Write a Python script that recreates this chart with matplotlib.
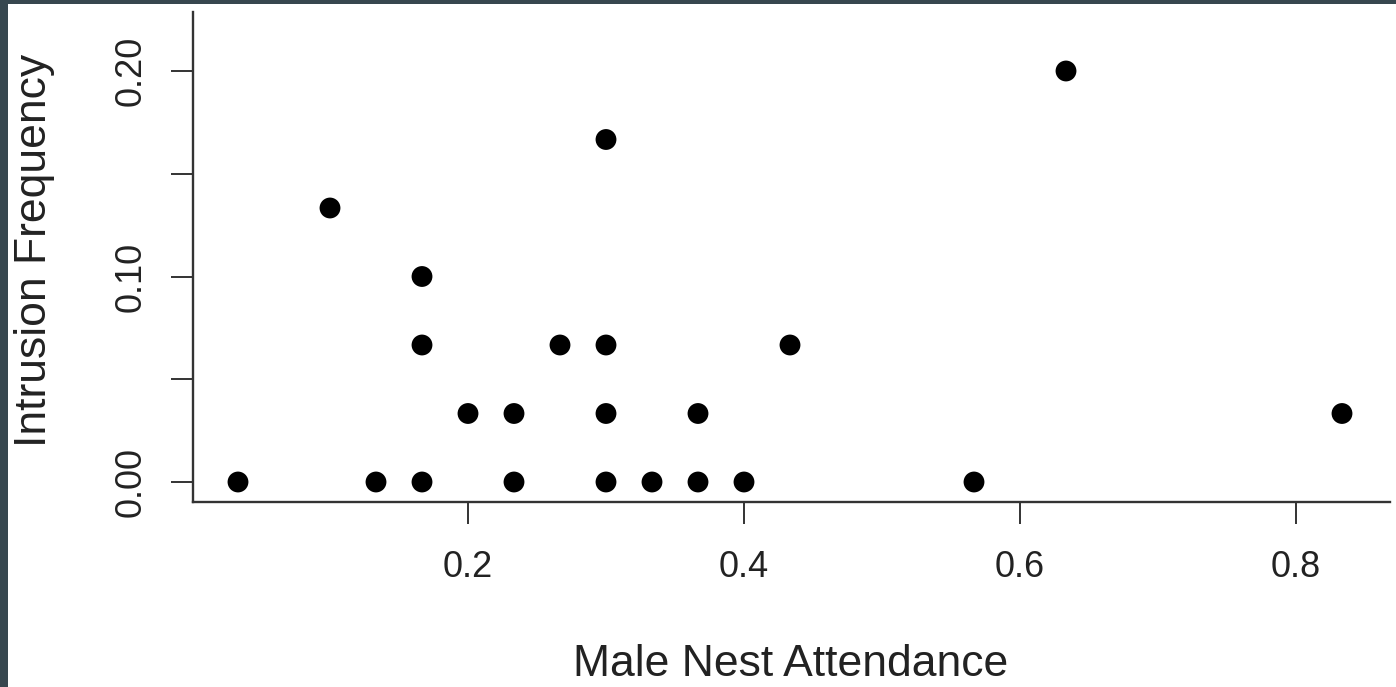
import matplotlib
matplotlib.use("Agg")
import matplotlib.pyplot as plt
from matplotlib.patches import Rectangle

# Data (multiples of 1/30)
male_nest_attendance = [1/30, 3/30, 4/30, 5/30, 5/30, 5/30, 6/30, 7/30, 7/30, 8/30,
                        9/30, 9/30, 9/30, 9/30, 10/30, 11/30, 11/30, 12/30, 13/30,
                        17/30, 19/30, 25/30]
intrusion_frequency = [0, 4/30, 0, 3/30, 2/30, 0, 1/30, 1/30, 0, 2/30,
                       5/30, 2/30, 1/30, 0, 0, 1/30, 0, 0, 2/30,
                       0, 6/30, 1/30]
x_ticks = [0.2, 0.4, 0.6, 0.8]
x_tick_labels = ["0.2", "0.4", "0.6", "0.8"]
y_ticks = [0.00, 0.05, 0.10, 0.15, 0.20]
y_tick_labels = ["0.00", "", "0.10", "", "0.20"]
x_label = "Male Nest Attendance"
y_label = "Intrusion Frequency"

plt.rcParams['font.family'] = ['Liberation Sans', 'DejaVu Sans']

W, H = 1396, 687
fig = plt.figure(figsize=(W / 100, H / 100), dpi=100, facecolor='#37474f')
bg = Rectangle((8 / W, 0), 1, (H - 4) / H, transform=fig.transFigure,
               facecolor='white', edgecolor='none', zorder=-5)
fig.add_artist(bg)

left, right, top, bottom = 193, 1390, 12, 502
ax = fig.add_axes([left / W, (H - bottom) / H, (right - left) / W, (bottom - top) / H])
ax.set_facecolor('none')
ax.set_zorder(1)

ax.scatter(male_nest_attendance, intrusion_frequency, s=15 ** 2, color='black',
           edgecolors='none', zorder=3, clip_on=False)

ax.set_xlim(1 / 1380, 1198 / 1380)
ax.set_ylim((482 - 502) / 2055, (482 - 12) / 2055)

for s in ['top', 'right']:
    ax.spines[s].set_visible(False)
for s in ['left', 'bottom']:
    ax.spines[s].set_linewidth(1.7)
    ax.spines[s].set_color('#333333')

ax.set_xticks(x_ticks)
ax.set_xticklabels(x_tick_labels)
ax.set_yticks(y_ticks)
ax.set_yticklabels(y_tick_labels, rotation=90, va='center')
ax.tick_params(axis='both', length=16, width=1.4, color='#333333',
               labelsize=26, labelcolor='#222222')
ax.tick_params(axis='x', pad=18.5)
ax.tick_params(axis='y', pad=16)

ax.set_xlabel(x_label, fontsize=32, color='#222222')
ax.xaxis.label.set_va('baseline')
ax.xaxis.set_label_coords(0.499, -(676 - 502) / 490)
ax.set_ylabel(y_label, fontsize=32, color='#222222')
ax.yaxis.label.set_va('center')
ax.yaxis.set_label_coords((35 - 193) / 1197, (502 - 250) / 490)

fig.savefig('out.png', dpi=100, facecolor=fig.get_facecolor())
